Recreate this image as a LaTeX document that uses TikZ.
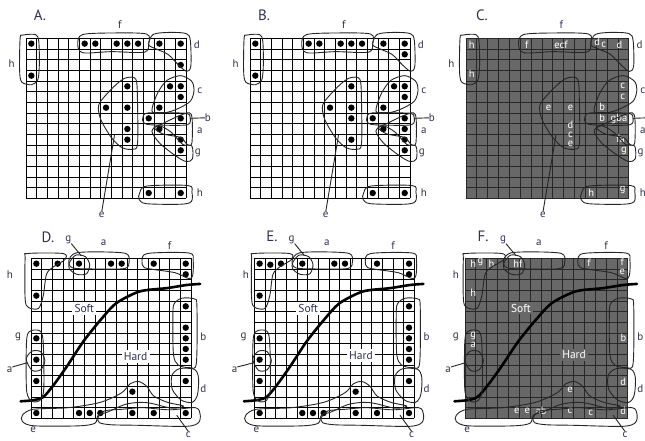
\documentclass[tikz,border=0pt]{standalone}
\usepackage{fontspec}
\setmainfont{PT Sans}
\definecolor{inkblue}{RGB}{45,50,80}
\definecolor{panelgray}{RGB}{104,104,104}
\definecolor{gridgray}{RGB}{40,40,40}
\tikzset{
  gridline/.style={line width=0.8pt},
  loopline/.style={line width=0.9pt,draw=black!85},
  dotfill/.style={fill=black},
  lbl/.style={font=\fontsize{11pt}{11pt}\selectfont,text=inkblue},
  inlbl/.style={font=\fontsize{10.5pt}{9.4pt}\selectfont,text=white},
  ttl/.style={font=\fontsize{15pt}{15pt}\selectfont,text=inkblue},
  zonelbl/.style={font=\fontsize{11.5pt}{11.5pt}\selectfont,inner sep=2.2pt},
  splitcurve/.style={line width=2.6pt,line cap=round}
}
% ---- 15x15 cell grid in cell units (x right, y down) ----
\newcommand{\cellgrid}[2]{% #1 fill, #2 line colour
  \fill[#1] (0,0) rectangle (15,15);
  \foreach \i in {0,...,15} {\draw[gridline,#2] (\i,0) -- (\i,15); \draw[gridline,#2] (0,\i) -- (15,\i);}}
% ---- dots: column/row pairs, counted from 1 ----
\newcommand{\celldots}[1]{\foreach \cx/\ry in {#1} \fill[dotfill] (\cx-0.5,\ry-0.5) circle[radius=3.2pt];}
% ---- loops and outer labels of panels A, B, C ----
\newcommand{\abloops}[1]{%
  \draw[loopline] plot[smooth cycle] coordinates {(-0.55,0) (-0.3,-0.3) (0.9,-0.35) (1.2,0.3) (1.25,2.5) (1.1,3.9) (0.5,4.35) (-0.4,4.1) (-0.6,3.0)};
  \draw[loopline] plot[smooth cycle] coordinates {(4.85,0.5) (5.3,-0.35) (8.2,-0.5) (11.3,-0.4) (11.5,0.5) (11.1,1.3) (8,1.25) (5.3,1.35)};
  \draw[loopline] plot[smooth cycle] coordinates {(11.5,0.6) (11.9,-0.35) (13.3,-0.55) (15.0,-0.45) (15.4,0.2) (15.45,2.6) (15.05,3.1) (14.3,2.5) (13.3,1.5) (12.2,1.0)};
  \draw[loopline] plot[smooth cycle] coordinates {(11.8,6.8) (12.3,5.2) (13.2,3.95) (14.5,3.5) (15.5,4.0) (15.75,4.8) (15.4,5.9) (14.0,6.7) (12.6,7.05)};
  \draw[loopline] plot[smooth cycle] coordinates {(9.4,3.7) (10.3,3.85) (10.45,6.0) (10.45,9.9) (10.0,10.4) (9.0,10.25) (8.0,9.3) (7.0,7.6) (6.8,6.3) (7.5,5.3) (8.6,4.2)};
  \draw[loopline] plot[smooth cycle] coordinates {(10.95,7.45) (11.4,7.0) (14.5,7.0) (15.3,7.15) (15.35,7.95) (14.6,8.15) (11.6,8.1) (11.0,7.85)};
  \draw[loopline] plot[smooth cycle] coordinates {(12.0,8.35) (12.7,8.05) (14.5,7.2) (15.5,7.15) (15.55,9.8) (15.1,9.95) (14.5,9.3) (12.8,8.95)};
  \draw[loopline] plot[smooth cycle] coordinates {(11.8,8.7) (12.5,8.2) (13.6,8.8) (14.7,9.95) (15.55,10.1) (15.6,11.3) (15.0,11.55) (14.0,11.0) (12.5,9.8)};
  \draw[loopline] plot[smooth cycle] coordinates {(10.65,14.5) (11.3,13.85) (15.2,13.8) (15.55,14.4) (15.5,15.3) (14.5,15.55) (11.3,15.5) (10.6,15.1)};
  \node[lbl] (#1-h1) at (-1.35,2.35) {h};
  \node[lbl] (#1-f)  at (8.8,-1.3)   {f};
  \node[lbl] (#1-d)  at (16.0,0.6)   {d};
  \node[lbl] (#1-c)  at (16.3,4.95)  {c};
  \node[lbl] (#1-b)  at (17.05,7.45) {b};
  \node[lbl] (#1-a)  at (16.3,8.7)   {a};
  \node[lbl] (#1-g)  at (16.1,10.75) {g};
  \node[lbl] (#1-h2) at (16.3,14.5)  {h};
  \node[lbl] (#1-e)  at (7.1,16.5)   {e};
  \coordinate (#1-bend) at (15.35,7.5);
  \coordinate (#1-etail) at (8.3,9.05);
  \draw[loopline] (#1-bend) -- (#1-b.west);
  \draw[loopline] (#1-etail) -- (#1-e.north);
}
% ---- loops and outer labels of panels D, E, F ----
%   #2 shift of the left-hand loops (cells), #3 #4 #5 x of the left labels h, g, a
\newcommand{\deloops}[5]{%
  \begin{scope}[shift={(#2,0)}]
    \draw[loopline] plot[smooth cycle] coordinates {(-0.55,0) (-0.3,-0.45) (3.0,-0.45) (3.2,0.1) (2.1,0.8) (1.45,1.5) (1.15,3.5) (0.7,4.7) (-0.25,4.6) (-0.55,3.8)};
    \draw[loopline] plot[smooth cycle] coordinates {(-0.35,7.2) (0.1,6.75) (0.9,6.85) (1.15,8.0) (1.2,12.2) (0.85,13.3) (0.1,13.4) (-0.4,12.5) (-0.45,9)};
    \draw[loopline] plot[smooth cycle] coordinates {(-0.45,9.45) (0.1,8.7) (0.9,8.75) (1.3,9.6) (0.9,10.45) (0.1,10.5)};
    \coordinate (#1-a2end) at (-0.4,9.8);
  \end{scope}
  \draw[loopline] plot[smooth cycle] coordinates {(3.6,0.4) (4.2,-0.3) (5.1,-0.15) (5.5,0.6) (5.2,1.45) (4.3,1.5) (3.6,1.0)};
  \draw[loopline] plot[smooth cycle] coordinates {(3.55,0.2) (4.2,-0.5) (6.5,-0.6) (8.9,-0.45) (9.2,0.3) (8.8,0.95) (6.2,1.0) (3.9,0.9)};
  \draw[loopline] plot[smooth cycle] coordinates {(10.4,0.3) (10.9,-0.45) (14.8,-0.5) (15.2,0.2) (15.15,1.6) (14.8,1.9) (13.5,1.35) (11.5,1.05) (10.6,0.85)};
  \draw[loopline] plot[smooth cycle] coordinates {(13.4,4.3) (14.1,3.75) (15.3,3.8) (15.55,4.5) (15.5,9.8) (14.9,10.25) (13.8,10.0) (13.35,9.0) (13.3,5.5)};
  \draw[loopline] plot[smooth cycle] coordinates {(13.2,11.0) (13.9,10.35) (15.3,10.4) (15.7,11.2) (15.6,12.8) (15.1,13.5) (14.1,13.3) (13.25,12.3)};
  \draw[loopline] plot[smooth cycle] coordinates {(-0.8,14.7) (0.2,14.15) (3.5,14.0) (6.5,13.5) (8.5,12.6) (9.3,11.75) (10.1,11.55) (10.85,12.0) (11.5,12.9) (12.8,13.5) (14.3,13.85) (13.2,14.05) (11.3,13.6) (10.2,13.5) (8.8,13.7) (7.2,14.4) (6.3,14.7) (6.0,15.45) (4.5,15.7) (0.3,15.7) (-0.8,15.3)};
  \draw[loopline] plot[smooth cycle] coordinates {(6.3,14.9) (6.9,14.3) (8.5,14.15) (10.5,14.0) (13,14.2) (15.4,14.0) (15.85,14.6) (15.7,15.4) (14.5,15.75) (10,15.65) (7.5,15.6) (6.4,15.4)};
  \node[lbl] (#1-h)  at (#3,1.55)    {h};
  \node[lbl] (#1-g1) at (3.5,-1.75)  {g};
  \node[lbl] (#1-a1) at (6.8,-1.45)  {a};
  \node[lbl] (#1-f)  at (13.0,-1.15) {f};
  \node[lbl] (#1-b)  at (16.15,7.35) {b};
  \node[lbl] (#1-d)  at (16.15,12.2) {d};
  \node[lbl] (#1-g2) at (#4,7.35)    {g};
  \node[lbl] (#1-a2) at (#5,10.45)   {a};
  \node[lbl] (#1-e)  at (0.2,16.1)   {e};
  \node[lbl] (#1-c)  at (14.75,16.5) {c};
  \coordinate (#1-g1end) at (4.7,-0.25);
  \coordinate (#1-cend)  at (13.65,14.7);
  \draw[loopline] (#1-g1.south east) -- (#1-g1end);
  \draw[loopline] (#1-a2.north east) -- (#1-a2end);
  \draw[loopline] (#1-c.north) -- (#1-cend);
}
% ---- soft / hard dividing curve ----
\newcommand{\softhard}{\draw[splitcurve] plot[smooth,tension=0.45] coordinates {(-0.97,13.4) (0.2,13.3) (1.15,13.0) (2.1,11.9) (3.35,10.15) (4.9,7.8) (6.5,5.8) (8.0,4.2) (10.2,3.1) (12.7,2.8) (14.6,2.5) (15.85,2.4)};}

\begin{document}
\begin{tikzpicture}[x=1pt,y=-1pt,line join=round,
  every node/.style={inner sep=0pt,outer sep=0pt}]
  \useasboundingbox (0,0) rectangle (645,440);  % 645x440 px canvas, y down
  % ---- panel titles ----
  \node[ttl] (tA) at (40,15)   {A.};
  \node[ttl] (tB) at (264,15)  {B.};
  \node[ttl] (tC) at (482,15)  {C.};
  \node[ttl] (tD) at (48,237)  {D.};
  \node[ttl] (tE) at (272,236) {E.};
  \node[ttl] (tF) at (483,236) {F.};
  % ---- A ----
  \begin{scope}[shift={(26,38.3)},x=10.67pt,y=-10.67pt]
    \cellgrid{white}{black}
    \celldots{1/1,6/1,7/1,9/1,10/1,11/1,13/1,15/1,15/3,1/4,10/5,14/5,15/5,15/6,8/7,10/7,13/7,12/8,15/8,10/9,13/9,10/10,15/10,15/11,12/15,15/15}
    \abloops{A}
  \end{scope}
  % ---- B ----
  \begin{scope}[shift={(250,38.3)},x=10.67pt,y=-10.67pt]
    \cellgrid{white}{black}
    \celldots{1/1,6/1,7/1,9/1,10/1,11/1,13/1,15/1,15/2,1/4,10/5,14/5,15/5,15/6,8/7,10/7,13/7,10/8,12/8,15/8,13/9,15/9,10/10,15/10,15/11,12/15,15/15}
    \abloops{B}
  \end{scope}
  % ---- C: letters in place of dots ----
  \begin{scope}[shift={(466,38.3)},x=10.85pt,y=-10.67pt]
    \cellgrid{panelgray}{gridgray}
    \node[inlbl] (C1)  at (0.52,0.62)  {h};
    \node[inlbl] (C2)  at (0.52,3.34)  {h};
    \node[inlbl] (C3)  at (5.6,0.62)   {f};
    \node[inlbl] (C4)  at (8.75,0.62)  {ecf};
    \node[inlbl] (C5)  at (12.1,0.31)  {d};
    \node[inlbl] (C6)  at (12.7,0.62)  {c};
    \node[inlbl] (C7)  at (14.15,0.62) {d};
    \node[inlbl] (C8)  at (14.45,4.47) {c};
    \node[inlbl] (C9)  at (14.45,5.53) {c};
    \node[inlbl] (C10) at (7.6,6.56)   {e};
    \node[inlbl] (C11) at (9.63,6.56)  {e};
    \node[inlbl] (C12) at (12.56,6.47) {b};
    \node[inlbl] (C13) at (12.56,7.5)  {b};
    \node[inlbl] (C14) at (14.1,7.55)  {gba};
    \node[inlbl,align=center] (C15) at (9.63,8.95) {d\\c\\e};
    \node[inlbl] (C16) at (14.25,9.45) {fa};
    \node[inlbl] (C17) at (14.55,10.6) {g};
    \node[inlbl] (C18) at (11.55,14.47) {h};
    \node[inlbl] (C19) at (14.45,14.2) {g};
    \abloops{C}
  \end{scope}
  % ---- D ----
  \begin{scope}[shift={(31,258.3)},x=10.67pt,y=-10.67pt]
    \cellgrid{white}{black}
    \node[zonelbl,fill=white,text=inkblue] (D-soft) at (5.0,4.7) {Soft};
    \node[zonelbl,fill=white,text=inkblue] (D-hard) at (9.8,9.2) {Hard};
    \softhard
    \celldots{1/1,3/1,5/1,8/1,9/1,12/1,15/1,15/2,1/4,15/5,15/7,15/8,15/9,15/10,1/8,1/10,1/12,15/12,10/13,1/15,5/15,6/15,7/15,10/15,12/15,15/15}
    \deloops{D}{0}{-1.97}{-1.2}{-2.0}
  \end{scope}
  % ---- E ----
  \begin{scope}[shift={(254.3,258.3)},x=10.67pt,y=-10.67pt]
    \cellgrid{white}{black}
    \node[zonelbl,fill=white,text=inkblue] (E-soft) at (5.05,4.7) {Soft};
    \node[zonelbl,fill=white,text=inkblue] (E-hard) at (10.0,9.1) {Hard};
    \softhard
    \celldots{1/1,2/1.1,3/1,5/1,8/1,9/1,12/1,15/1,15/2,1/4,15/5,15/7,15/8,15/9,15/10,1/8,1/10,1/12,15/12,10/13,1/15,5/15,6/15,7/15,10/15,12/15,15/15}
    \deloops{E}{0.3}{-0.8}{-1.0}{-1.85}
  \end{scope}
  % ---- F: letters in place of dots ----
  \begin{scope}[shift={(465,258.3)},x=10.85pt,y=-10.67pt]
    \cellgrid{panelgray}{gridgray}
    \node[zonelbl,fill=panelgray,text=white] (F-soft) at (5.15,4.66) {Soft};
    \node[zonelbl,fill=panelgray,text=white] (F-hard) at (10.05,9.06) {Hard};
    \softhard
    \node[inlbl] (F1)  at (0.76,0.53)  {h};
    \node[inlbl] (F2)  at (1.43,0.38)  {g};
    \node[inlbl] (F3)  at (2.44,0.53)  {h};
    \node[inlbl] (F4)  at (4.88,0.47)  {hf};
    \node[inlbl] (F5)  at (11.43,0.4)  {f};
    \node[inlbl,align=center] (F6) at (14.5,0.75) {f\\e};
    \node[inlbl] (F8)  at (0.76,3.28)  {h};
    \node[inlbl,align=center] (F9) at (0.76,7.65) {g\\a};
    \node[inlbl] (F11) at (14.6,7.5)   {b};
    \node[inlbl] (F12) at (14.57,11.56) {d};
    \node[inlbl] (F13) at (9.67,12.34) {e};
    \node[inlbl] (F14) at (4.78,14.3)  {e};
    \node[inlbl] (F15) at (5.74,14.3)  {e};
    \node[inlbl] (F16) at (7.02,14.3)  {ab};
    \node[inlbl] (F17) at (9.67,14.3)  {c};
    \node[inlbl] (F18) at (11.6,14.45) {c};
    \node[inlbl] (F19) at (14.57,14.3) {d};
    \deloops{F}{0.4}{-0.85}{-0.85}{-1.55}
  \end{scope}
\end{tikzpicture}
\end{document}
